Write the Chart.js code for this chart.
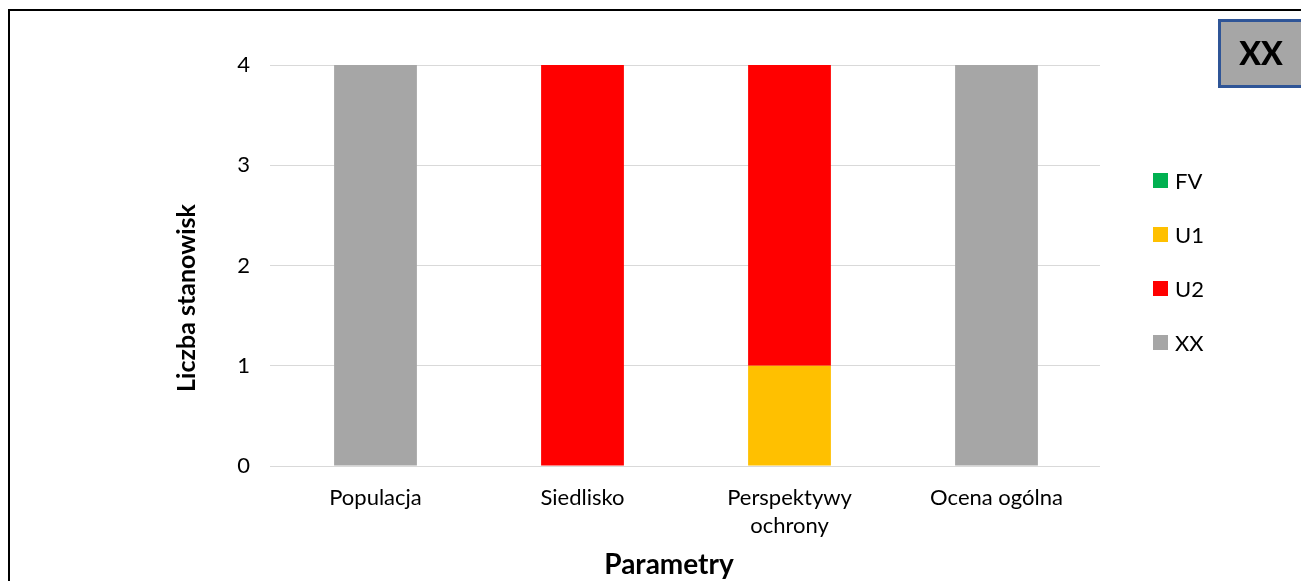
<!DOCTYPE html>
<html>
<head>
<meta charset="utf-8">
<script src="https://cdn.jsdelivr.net/npm/chart.js@4.4.1/dist/chart.umd.min.js"></script>
<style>
  html, body { margin: 0; padding: 0; background: #ffffff; }
  #wrap { width: 1301px; height: 581px; position: relative; }
</style>
</head>
<body>
<div id="wrap"><canvas id="chart" width="1301" height="581"></canvas></div>
<script>
// Category labels (multi-line where the axis wraps them)
const categories = ['Populacja', 'Siedlisko', ['Perspektywy', 'ochrony'], 'Ocena ogólna'];

// Number of sites per assessment class
const seriesFV = [0, 0, 0, 0];
const seriesU1 = [0, 0, 1, 0];
const seriesU2 = [0, 4, 3, 0];
const seriesXX = [4, 0, 0, 4];

const seriesNames = ['FV', 'U1', 'U2', 'XX'];
const seriesColors = ['#00B050', '#FFC000', '#FF0000', '#A6A6A6'];

const yTicks = [0, 1, 2, 3, 4];

const xTitle = 'Parametry';
const yTitle = 'Liczba stanowisk';
const badgeText = 'XX';

const FONT = 'Lato, "Open Sans", sans-serif';

// Frame lines, axis titles, the badge box and the side legend
const decorations = {
  id: 'decorations',
  afterDraw(chart) {
    const ctx = chart.ctx;
    ctx.save();
    // frame
    ctx.strokeStyle = '#000000';
    ctx.lineWidth = 2;
    ctx.beginPath();
    ctx.moveTo(9, 581);
    ctx.lineTo(9, 10);
    ctx.lineTo(1301, 10);
    ctx.stroke();

    // axis titles
    ctx.fillStyle = '#000000';
    ctx.textAlign = 'center';
    ctx.textBaseline = 'middle';
    ctx.font = 'bold 28px ' + FONT;
    ctx.fillText(xTitle, 669, 565);
    ctx.save();
    ctx.translate(187, 298);
    ctx.rotate(-Math.PI / 2);
    ctx.font = 'bold 25px ' + FONT;
    ctx.fillText(yTitle, 0, 0);
    ctx.restore();

    // badge
    ctx.fillStyle = '#A6A6A6';
    ctx.fillRect(1219, 20, 84, 66);
    ctx.strokeStyle = '#2F5597';
    ctx.lineWidth = 3;
    ctx.strokeRect(1219.5, 20.5, 84, 66);
    ctx.fillStyle = '#000000';
    ctx.font = '900 32px ' + FONT;
    ctx.fillText(badgeText, 1261, 55);

    // legend
    ctx.font = '22px ' + FONT;
    ctx.textAlign = 'left';
    chart.data.datasets.forEach((ds, i) => {
      const y = 181 + i * 54;
      ctx.fillStyle = ds.backgroundColor;
      ctx.fillRect(1153, y - 8, 15, 15);
      ctx.fillStyle = '#000000';
      ctx.fillText(ds.label, 1175, y + 1);
    });
    ctx.restore();
  }
};

const datasets = [seriesFV, seriesU1, seriesU2, seriesXX].map((data, i) => ({
  label: seriesNames[i],
  data: data,
  backgroundColor: seriesColors[i],
  borderWidth: 0,
  categoryPercentage: 0.4,
  barPercentage: 1.0
}));

new Chart(document.getElementById('chart'), {
  type: 'bar',
  data: { labels: categories, datasets: datasets },
  options: {
    responsive: false,
    animation: false,
    events: [],
    layout: { padding: { left: 0, right: 201, top: 65, bottom: 0 } },
    plugins: {
      legend: { display: false },
      tooltip: { enabled: false }
    },
    scales: {
      x: {
        stacked: true,
        grid: { display: false, drawTicks: false },
        border: { display: false },
        ticks: {
          color: '#000000',
          font: { family: FONT, size: 22, lineHeight: 1.27 },
          padding: 18,
          maxRotation: 0,
          autoSkip: false
        },
        afterFit(scale) { scale.height = 581 - 466; }
      },
      y: {
        stacked: true,
        min: 0,
        max: 4,
        afterBuildTicks(scale) { scale.ticks = yTicks.map(v => ({ value: v })); },
        grid: { color: '#D9D9D9', lineWidth: 1, drawTicks: true, tickLength: 2, tickColor: '#D9D9D9' },
        border: { display: false },
        ticks: {
          color: '#000000',
          font: { family: FONT, size: 22 },
          padding: 20
        },
        afterFit(scale) { scale.width = 272; }
      }
    }
  },
  plugins: [decorations]
});
</script>
</body>
</html>
